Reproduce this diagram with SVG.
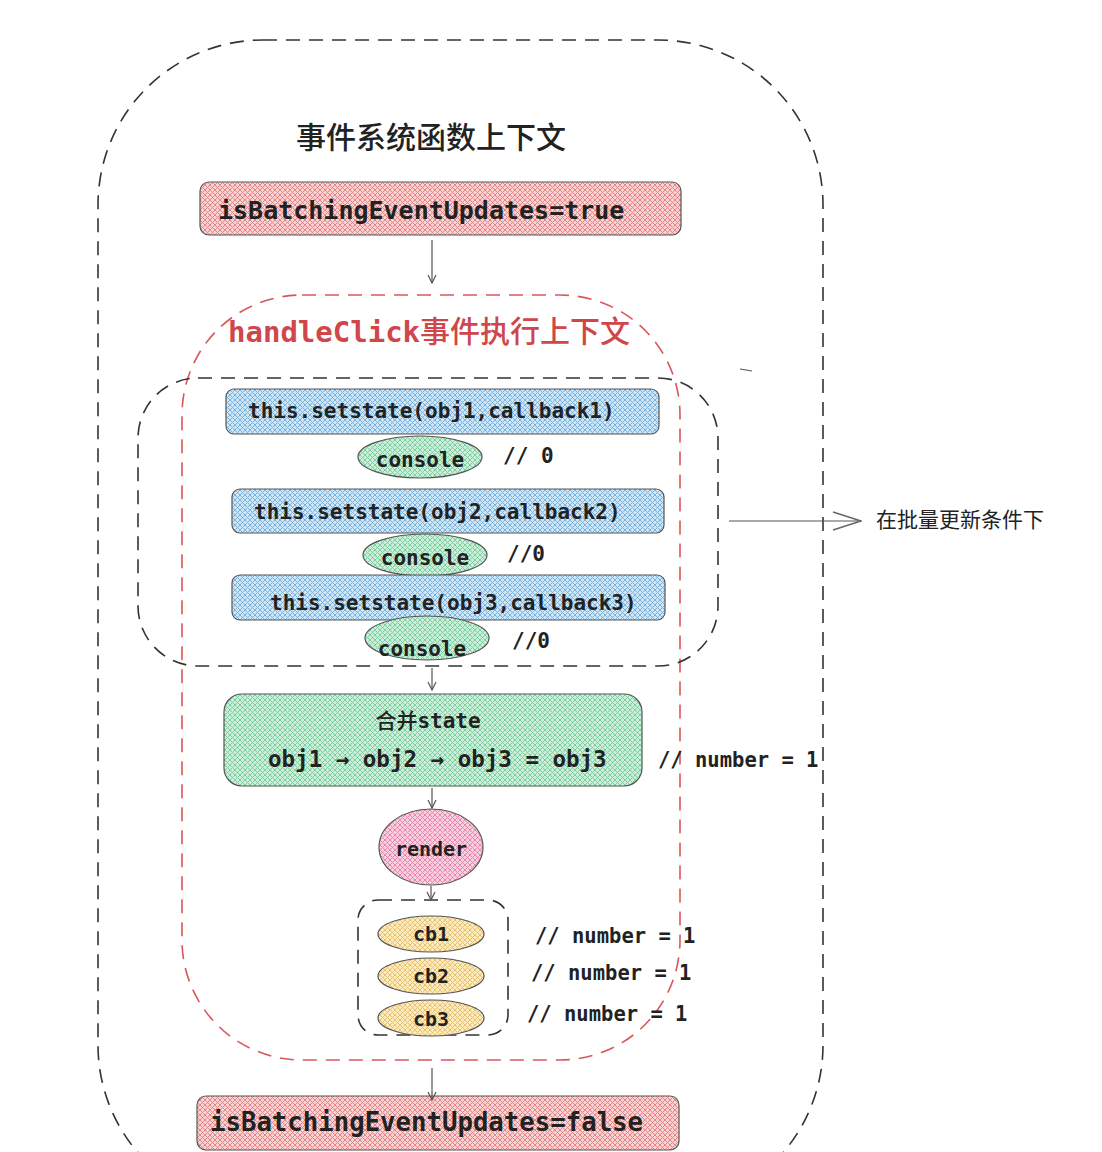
<svg xmlns="http://www.w3.org/2000/svg" width="1102" height="1152" viewBox="0 0 1102 1152">
<defs>
<pattern id="pRed" width="5" height="5" patternUnits="userSpaceOnUse"><rect width="5" height="5" fill="#f9d3d3"/><path d="M0,0L5,5M5,0L0,5" stroke="#e58585" stroke-width="1"/></pattern>
<pattern id="pBlue" width="5" height="5" patternUnits="userSpaceOnUse"><rect width="5" height="5" fill="#cfe6f7"/><path d="M0,0L5,5M5,0L0,5" stroke="#7ab3e0" stroke-width="1"/></pattern>
<pattern id="pGreen" width="5" height="5" patternUnits="userSpaceOnUse"><rect width="5" height="5" fill="#cdeedb"/><path d="M0,0L5,5M5,0L0,5" stroke="#7ccf9f" stroke-width="1"/></pattern>
<pattern id="pPink" width="5" height="5" patternUnits="userSpaceOnUse"><rect width="5" height="5" fill="#f8d0df"/><path d="M0,0L5,5M5,0L0,5" stroke="#e687ab" stroke-width="1"/></pattern>
<pattern id="pYellow" width="5" height="5" patternUnits="userSpaceOnUse"><rect width="5" height="5" fill="#fcebbf"/><path d="M0,0L5,5M5,0L0,5" stroke="#e8c171" stroke-width="1"/></pattern>
<marker id="arr" viewBox="0 0 10 10" refX="9" refY="5" markerWidth="10" markerHeight="10" markerUnits="userSpaceOnUse" orient="auto"><path d="M1,1L9,5L1,9" fill="none" stroke="#555" stroke-width="1.2"/></marker>
<marker id="arrBig" viewBox="0 0 30 20" refX="29" refY="10" markerWidth="30" markerHeight="20" markerUnits="userSpaceOnUse" orient="auto"><path d="M1,1L29,10L1,19" fill="none" stroke="#666" stroke-width="1.5"/></marker>
</defs>
<style>
.mono{font-family:"DejaVu Sans Mono","Liberation Mono",monospace;fill:#222;font-weight:bold;}
.cjk{font-family:"Noto Sans CJK SC","Noto Sans",sans-serif;fill:#222;}
.box{stroke:#555;stroke-width:1.2;}
.dash{fill:none;stroke:#333;stroke-width:1.6;stroke-dasharray:14 9;}
.rdash{fill:none;stroke:#d9575b;stroke-width:1.6;stroke-dasharray:14 9;}
.conn{fill:none;stroke:#555;stroke-width:1.2;}
</style>
<rect width="1102" height="1152" fill="#ffffff"/>

<g id="outer-context">
<rect class="dash" x="98" y="40" width="725" height="1170" rx="165" ry="165"/>
<text class="cjk" x="296" y="148" font-size="30" font-weight="500">事件系统函数上下文</text>
</g>

<g id="handleclick-context">
<rect class="rdash" x="182" y="295" width="498" height="765" rx="120" ry="120"/>
<text x="228" y="342" fill="#d0464b"><tspan font-family="DejaVu Sans Mono, monospace" font-size="29" font-weight="bold">handleClick</tspan><tspan font-family="Noto Sans CJK SC, sans-serif" font-size="30" font-weight="500">事件执行上下文</tspan></text>
</g>

<g id="batch-group">
<rect class="dash" x="138" y="378" width="580" height="288" rx="60" ry="60"/>
</g>

<g id="flag-true">
<rect class="box" x="200" y="182" width="481" height="53" rx="9" fill="url(#pRed)"/>
<text class="mono" x="218" y="219" font-size="25">isBatchingEventUpdates=true</text>
</g>

<g id="setstate1">
<rect class="box" x="226" y="389" width="433" height="45" rx="8" fill="url(#pBlue)"/>
<text class="mono" x="248" y="418" font-size="21">this.setstate(obj1,callback1)</text>
</g>
<g id="console1">
<ellipse class="box" cx="420" cy="457" rx="62" ry="21" fill="url(#pGreen)"/>
<text class="mono" x="420" y="467" font-size="21" text-anchor="middle">console</text>
<text class="mono" x="503" y="463" font-size="21">// 0</text>
</g>

<g id="setstate2">
<rect class="box" x="232" y="489" width="432" height="44" rx="8" fill="url(#pBlue)"/>
<text class="mono" x="254" y="519" font-size="21">this.setstate(obj2,callback2)</text>
</g>
<g id="console2">
<ellipse class="box" cx="425" cy="555" rx="62" ry="21" fill="url(#pGreen)"/>
<text class="mono" x="425" y="565" font-size="21" text-anchor="middle">console</text>
<text class="mono" x="507" y="561" font-size="21">//0</text>
</g>

<g id="setstate3">
<rect class="box" x="232" y="575" width="433" height="45" rx="8" fill="url(#pBlue)"/>
<text class="mono" x="270" y="610" font-size="21">this.setstate(obj3,callback3)</text>
</g>
<g id="console3">
<ellipse class="box" cx="427" cy="638" rx="62" ry="22" fill="url(#pGreen)"/>
<text class="mono" x="422" y="656" font-size="21" text-anchor="middle">console</text>
<text class="mono" x="512" y="648" font-size="21">//0</text>
</g>

<g id="merge-state">
<rect class="box" x="224" y="694" width="418" height="92" rx="18" fill="url(#pGreen)"/>
<text x="428" y="728" font-size="21" text-anchor="middle" fill="#222"><tspan font-family="Noto Sans CJK SC, sans-serif" font-weight="500">合并</tspan><tspan font-family="DejaVu Sans Mono, monospace" font-weight="bold">state</tspan></text>
<text class="mono" x="268" y="767" font-size="22.5">obj1 → obj2 → obj3 = obj3</text>
<text class="mono" x="658" y="767" font-size="20.5">// number = 1</text>
</g>

<g id="render">
<ellipse class="box" cx="431" cy="847" rx="52" ry="38" fill="url(#pPink)"/>
<text class="mono" x="431" y="856" font-size="20" text-anchor="middle">render</text>
</g>

<g id="callbacks">
<rect class="dash" x="358" y="900" width="150" height="135" rx="20" ry="20"/>
</g>
<g id="cb1">
<ellipse class="box" cx="431" cy="934" rx="53" ry="18" fill="url(#pYellow)"/>
<text class="mono" x="431" y="941" font-size="20" text-anchor="middle">cb1</text>
<text class="mono" x="535" y="943" font-size="20.5">// number = 1</text>
</g>
<g id="cb2">
<ellipse class="box" cx="431" cy="976" rx="53" ry="18" fill="url(#pYellow)"/>
<text class="mono" x="431" y="983" font-size="20" text-anchor="middle">cb2</text>
<text class="mono" x="531" y="980" font-size="20.5">// number = 1</text>
</g>
<g id="cb3">
<ellipse class="box" cx="431" cy="1018" rx="53" ry="18" fill="url(#pYellow)"/>
<text class="mono" x="431" y="1026" font-size="20" text-anchor="middle">cb3</text>
<text class="mono" x="527" y="1021" font-size="20.5">// number = 1</text>
</g>

<g id="flag-false">
<rect class="box" x="197" y="1096" width="482" height="54" rx="9" fill="url(#pRed)"/>
<text class="mono" x="210" y="1131" font-size="25.7">isBatchingEventUpdates=false</text>
</g>

<g id="note">
<text class="cjk" x="876" y="527" font-size="21">在批量更新条件下</text>
</g>

<g id="connectors">
<line class="conn" x1="432" y1="240" x2="432" y2="283" marker-end="url(#arr)"/>
<line class="conn" x1="432" y1="668" x2="432" y2="690" marker-end="url(#arr)"/>
<line class="conn" x1="432" y1="788" x2="432" y2="808" marker-end="url(#arr)"/>
<line class="conn" x1="431" y1="886" x2="431" y2="900" marker-end="url(#arr)"/>
<line class="conn" x1="432" y1="1068" x2="432" y2="1100" marker-end="url(#arr)"/>
<line class="conn" x1="729" y1="521" x2="861" y2="521" stroke="#666" marker-end="url(#arrBig)"/>
<line x1="740" y1="369" x2="752" y2="371" stroke="#555" stroke-width="1.2"/>
</g>
</svg>
